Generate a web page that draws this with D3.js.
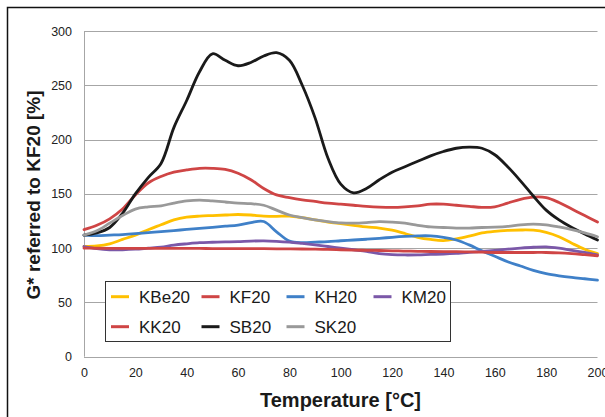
<!DOCTYPE html>
<html>
<head>
<meta charset="utf-8">
<script src="https://cdn.jsdelivr.net/npm/d3@7"></script>
<style>
  html, body { margin: 0; padding: 0; background: #fff; }
  svg { display: block; font-family: "Liberation Sans", Arial, sans-serif; }
</style>
</head>
<body>
<svg id="chart" width="605" height="417"></svg>
<script>
// Temperature grid (°C)
const temps = [0,5,10,15,20,25,30,35,40,45,50,55,60,65,70,75,80,85,90,95,100,
  105,110,115,120,125,130,135,140,145,150,155,160,165,170,175,180,185,190,195,200];

// G* referred to KF20 [%] for each sample
const KBe20 = [101.5,102,104,108,112,117,121.5,126,128.5,129.5,130,130.5,131,130.5,129.5,129.3,129.5,128,126,124,
  122.5,121,119.5,118.5,116.5,113.5,110,108,107,108.5,111,114,115.5,116.3,116.7,116.5,114.5,110.5,104.5,99,95];
const KF20 = [117,121,127,136,149,160,166,170,172,173.5,173.5,172.5,169,163,155,149,146.5,144.5,143,141.5,
  140.5,139.5,138.5,137.8,137.5,138,139,140.5,140.5,139.5,138.5,137.5,138,141.5,145,147,146.5,142,136,130,124];
const KH20 = [112,111.5,112,112.5,113.3,114.3,115.2,116.2,117.2,118.2,119.2,120.2,121.2,123.5,124.5,115,106.5,105,105.5,106,
  106.8,107.5,108.2,109,110,110.8,111.3,111.3,110,107.5,103,97.5,92.5,87.5,83.5,79.5,76.5,74.5,73,71.8,70.6];
const KM20 = [101.5,99.5,98.5,98.5,99,100,101,102.8,104,105,105.4,105.7,106,106.5,106.7,106.3,105.5,104.3,103,101.5,
  100,98.5,97,95,94,93.7,93.8,94.2,94.5,95.1,96,97,98,99,100,100.8,101.2,100,98,96,93.7];
const KK20 = [100,99.9,99.8,99.8,99.8,99.8,99.8,99.7,99.7,99.7,99.6,99.6,99.6,99.5,99.5,99.4,99.3,99.2,99,98.8,
  98.5,98.2,98,97.8,97.5,97.3,97,96.9,96.8,96.7,96.5,96.3,96,96,96,96,96,95.7,95,94,93];
const SB20 = [112,114,119,132,150,165,178,211,236,262.5,279,273,268,271,277,280,273,250,220,183,
  159,151,155,163,170,175,180,185,189,192,193,192,186,175,162,148,135,126,119,113,107.5];
const SK20 = [112,116,123,130,136,138,139,141.5,143.5,144.3,143.5,142.5,141.5,141,139.5,135,130.5,128,126,124.5,
  123.3,123,123.5,124.4,124,123,121,119.5,119,118.5,118.5,119,119.3,120,121.5,122.2,121.5,119.5,117,114,110.5];

const seriesNames = ["KBe20","KF20","KH20","KM20","KK20","SB20","SK20"];
const seriesValues = [KBe20, KF20, KH20, KM20, KK20, SB20, SK20];
const seriesColors = ["#FFC000","#CF4545","#3F80C8","#7B58A8","#CF4545","#1a1a1a","#999999"];

const xTicks = [0,20,40,60,80,100,120,140,160,180,200];
const yTicks = [0,50,100,150,200,250,300];

const xTitle = "Temperature [°C]";
const yTitle = "G* referred to KF20 [%]";

const svg = d3.select("#chart");

// outer chart frame
svg.append("rect")
  .attr("x", 7.5).attr("y", 7.5)
  .attr("width", 640).attr("height", 440)
  .attr("fill", "none").attr("stroke", "#111").attr("stroke-width", 1.5);

const plot = { left: 84, right: 597.5, top: 31, bottom: 356.7 };

const x = d3.scaleLinear().domain([0, 200]).range([plot.left, plot.right]);
const y = d3.scaleLinear().domain([0, 300]).range([plot.bottom, plot.top]);

// horizontal gridlines
svg.append("g")
  .selectAll("line")
  .data(yTicks)
  .join("line")
  .attr("x1", plot.left).attr("x2", plot.right)
  .attr("y1", d => Math.round(y(d)) + 0.5).attr("y2", d => Math.round(y(d)) + 0.5)
  .attr("stroke", "#a6a6a6").attr("stroke-width", 1);

// vertical axis line
svg.append("line")
  .attr("x1", plot.left + 0.5).attr("x2", plot.left + 0.5)
  .attr("y1", y(300)).attr("y2", y(0))
  .attr("stroke", "#a6a6a6").attr("stroke-width", 1);

// y tick labels
const yAxis = d3.axisLeft(y).tickValues(yTicks).tickSize(0).tickPadding(12);
const gy = svg.append("g").attr("transform", `translate(${plot.left},0)`).call(yAxis);
gy.select(".domain").remove();
gy.selectAll("text").attr("font-size", "12.5px").attr("fill", "#222")
  .attr("font-family", "Liberation Sans, Arial, sans-serif");

// x tick labels
const xAxis = d3.axisBottom(x).tickValues(xTicks).tickSize(0).tickPadding(11);
const gx = svg.append("g").attr("transform", `translate(0,${plot.bottom})`).call(xAxis);
gx.select(".domain").remove();
gx.selectAll("text").attr("font-size", "12.5px").attr("fill", "#222")
  .attr("font-family", "Liberation Sans, Arial, sans-serif");

// axis titles
svg.append("text")
  .attr("x", 340.5).attr("y", 407)
  .attr("text-anchor", "middle")
  .attr("font-size", "20px").attr("font-weight", "bold").attr("fill", "#1a1a1a")
  .text(xTitle);

svg.append("text")
  .attr("transform", "translate(39.5,195) rotate(-90)")
  .attr("text-anchor", "middle")
  .attr("font-size", "19px").attr("font-weight", "bold").attr("fill", "#1a1a1a")
  .text(yTitle);

// smoothed series lines
const line = d3.line()
  .x((d, i) => x(temps[i]))
  .y(d => y(d))
  .curve(d3.curveCatmullRom.alpha(0.5));

svg.append("g")
  .selectAll("path")
  .data(seriesValues)
  .join("path")
  .attr("d", d => line(d))
  .attr("fill", "none")
  .attr("stroke", (d, i) => seriesColors[i])
  .attr("stroke-width", 2.8)
  .attr("stroke-linejoin", "round")
  .attr("stroke-linecap", "round");

// legend
const legend = svg.append("g");
legend.append("rect")
  .attr("x", 105.5).attr("y", 281.5)
  .attr("width", 345).attr("height", 60)
  .attr("fill", "#fff").attr("stroke", "#333").attr("stroke-width", 1);

const colX = [111, 201.5, 286.5, 373.5];
const rowY = [296.7, 326.7];
seriesNames.forEach((name, i) => {
  const cx = colX[i % 4];
  const cy = rowY[Math.floor(i / 4)];
  legend.append("line")
    .attr("x1", cx).attr("x2", cx + 18)
    .attr("y1", cy).attr("y2", cy)
    .attr("stroke", seriesColors[i]).attr("stroke-width", 3);
  legend.append("text")
    .attr("x", cx + 28).attr("y", cy + 6)
    .attr("font-size", "17px").attr("fill", "#1a1a1a")
    .text(name);
});
</script>
</body>
</html>
